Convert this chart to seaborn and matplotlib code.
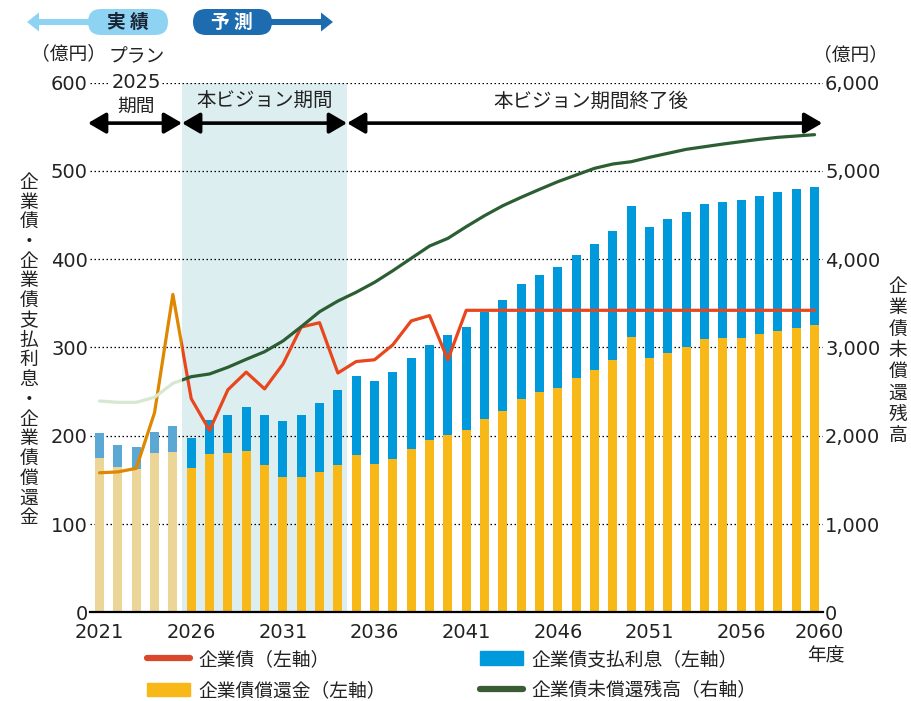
import matplotlib
matplotlib.use('Agg')
import numpy as np
import pandas as pd
import matplotlib.pyplot as plt
import seaborn as sns
from matplotlib.patches import Rectangle, FancyBboxPatch, FancyArrow, Patch
from matplotlib.lines import Line2D
from matplotlib.transforms import IdentityTransform, ScaledTranslation

# ---------------- data ----------------
years = list(range(2021, 2061))
phase = ['実績'] * 5 + ['予測'] * 35
# 企業債償還金 (億円, left axis)
repayment = [175, 164, 162, 180, 181, 163, 179, 180, 183, 167,
             153, 153, 159, 167, 178, 168, 174, 185, 195, 201,
             206, 219, 228, 242, 249, 254, 265, 274, 286, 312,
             288, 294, 301, 309, 311, 311, 315, 319, 322, 325]
# 企業債支払利息 (億円, left axis)
interest = [28, 26, 25, 24, 30, 34, 39, 44, 50, 57,
            64, 70, 78, 85, 90, 94, 98, 103, 108, 113,
            117, 121, 126, 130, 133, 137, 140, 143, 146, 148,
            148, 151, 152, 153, 154, 156, 156, 157, 157, 157]
# 企業債 (億円, left axis)
bond_issue = [158, 159, 163, 226, 360, 242, 206, 252, 272, 253,
              281, 323, 328, 271, 284, 286, 303, 330, 336, 286,
              342, 342, 342, 342, 342, 342, 342, 342, 342, 342,
              342, 342, 342, 342, 342, 342, 342, 342, 342, 342]
# 企業債未償還残高 (億円, right axis)
outstanding = [2393, 2378, 2378, 2435, 2593, 2668, 2699, 2775, 2865, 2951,
               3072, 3234, 3404, 3525, 3625, 3737, 3869, 4009, 4148, 4235,
               4367, 4492, 4605, 4700, 4790, 4877, 4953, 5028, 5077, 5103,
               5153, 5198, 5243, 5273, 5303, 5330, 5357, 5379, 5394, 5409]

x_ticks = [2021, 2026, 2031, 2036, 2041, 2046, 2051, 2056, 2060]
left_ticks = [0, 100, 200, 300, 400, 500, 600]
right_ticks = [0, 1000, 2000, 3000, 4000, 5000, 6000]
right_tick_labels = ['0', '1,000', '2,000', '3,000', '4,000', '5,000', '6,000']
legend_labels = ['企業債（左軸）', '企業債償還金（左軸）',
                 '企業債支払利息（左軸）', '企業債未償還残高（右軸）']

# ---------------- colours ----------------
C_YELLOW_A = '#ECD697'
C_BLUE_A = '#5BA8D5'
C_YELLOW = '#F8B818'
C_BLUE = '#009ADC'
C_ORANGE = '#DF8700'
C_RED = '#E8461C'
C_GREEN_A = '#D6E8D0'
C_GREEN = '#2B5E33'
C_SHADE = '#DDEEF1'

sns.set_theme(style='white')
plt.rcParams['font.family'] = ['Noto Sans CJK JP', 'DejaVu Sans']

W, H = 912, 701
fig = plt.figure(figsize=(W / 100, H / 100), dpi=100)
ax = fig.add_axes([90 / W, 1 - 612.3 / H, (823 - 90) / W, (612.3 - 82.5) / H])

df = pd.DataFrame({'year': years, 'phase': phase,
                   'repay': repayment,
                   'total': [r + i for r, i in zip(repayment, interest)]})

ax.axvspan(2025.5, 2034.5, color=C_SHADE, zorder=0.1, lw=0)

sns.barplot(data=df, x='year', y='total', hue='phase',
            palette={'実績': C_BLUE_A, '予測': C_BLUE}, saturation=1,
            native_scale=True, width=0.48, dodge=False, errorbar=None,
            linewidth=0, legend=False, ax=ax, zorder=2)
sns.barplot(data=df, x='year', y='repay', hue='phase',
            palette={'実績': C_YELLOW_A, '予測': C_YELLOW}, saturation=1,
            native_scale=True, width=0.48, dodge=False, errorbar=None,
            linewidth=0, legend=False, ax=ax, zorder=2.1)

bond_df = pd.DataFrame({'year': years, 'bond': bond_issue})
sns.lineplot(data=bond_df, x='year', y='bond', color=C_ORANGE, lw=2.3, ax=ax, zorder=4)
ax.lines[-1].set_clip_path(Rectangle((2019, -100), 6.5, 1000, transform=ax.transData))
sns.lineplot(data=bond_df, x='year', y='bond', color=C_RED, lw=2.3, ax=ax, zorder=4)
ax.lines[-1].set_clip_path(Rectangle((2025.5, -100), 40, 1000, transform=ax.transData))

ax.set_xlim(2020.48, 2060.46)
ax.set_ylim(0, 600)
ax.set_yticks(left_ticks)
ax.set_yticklabels([str(v) for v in left_ticks])
ax.set_xticks(x_ticks)
ax.set_xticklabels([str(v) for v in x_ticks])
ax.set_xlabel('')
ax.set_ylabel('')
ax.set_axisbelow(True)
ax.grid(axis='y', color='black', ls=(0, (1.2, 2.0)), lw=0.9, zorder=0.5)
ax.grid(axis='x', visible=False)
for s in ['top', 'left', 'right']:
    ax.spines[s].set_visible(False)
ax.spines['bottom'].set_color('black')
ax.spines['bottom'].set_linewidth(1.6)
ax.spines['bottom'].set_zorder(5)
ax.tick_params(axis='both', length=0, labelsize=14, colors='#222222')
ax.tick_params(axis='y', pad=1.5)
ax.tick_params(axis='x', pad=7.5)
for lab in ax.get_xticklabels() + ax.get_yticklabels():
    lab.set_fontfamily('DejaVu Sans')
xl = ax.get_xticklabels()[-1]
xl.set_transform(xl.get_transform() + ScaledTranslation(5 / 100, 0, fig.dpi_scale_trans))

ax2 = ax.twinx()
out_df = pd.DataFrame({'year': years, 'out': outstanding})
sns.lineplot(data=out_df, x='year', y='out', color=C_GREEN_A, lw=2.3, ax=ax2, zorder=3)
ax2.lines[-1].set_clip_path(Rectangle((2019, -1000), 6.5, 10000, transform=ax2.transData))
sns.lineplot(data=out_df, x='year', y='out', color=C_GREEN, lw=2.3, ax=ax2, zorder=3)
ax2.lines[-1].set_clip_path(Rectangle((2025.5, -1000), 40, 10000, transform=ax2.transData))
ax2.set_ylim(0, 6000)
ax2.set_xlim(2020.48, 2060.46)
ax2.set_yticks(right_ticks)
ax2.set_yticklabels(right_tick_labels)
ax2.set_ylabel('')
ax2.grid(False)
for s in ax2.spines.values():
    s.set_visible(False)
ax2.tick_params(axis='y', length=0, labelsize=14, pad=1.5, colors='#222222')
for lab in ax2.get_yticklabels():
    lab.set_fontfamily('DejaVu Sans')

# ------------- period annotations -------------
arrow_y = 554
arr = dict(arrowstyle='<|-|>,head_length=0.6,head_width=0.35', color='black',
           lw=2.6, shrinkA=0, shrinkB=0, mutation_scale=18)
for x0, x1 in [(2020.37, 2025.5), (2025.5, 2034.5), (2034.5, 2060.42)]:
    ax2.annotate('', xy=(x1, arrow_y * 10), xytext=(x0, arrow_y * 10),
                 arrowprops=arr, annotation_clip=False, zorder=6)
ax.text(2030.0, 579, '本ビジョン期間', ha='center', va='center', fontsize=14,
        color='#222222', zorder=6)
ax.text(2047.8, 579, '本ビジョン期間終了後', ha='center', va='center', fontsize=14,
        color='#222222', zorder=6)
ax.text(2023.0, 629, 'プラン', ha='center', va='center', fontsize=13.5,
        color='#222222', clip_on=False)
ax.text(2023.0, 600.5, '2025', ha='center', va='center', fontsize=14,
        color='#222222', clip_on=False, fontfamily='DejaVu Sans',
        bbox=dict(fc='white', ec='none', pad=1.0), zorder=6)
ax.text(2023.0, 573.5, '期間', ha='center', va='center', fontsize=13.5,
        color='#222222', clip_on=False, zorder=6)

def fx(x):
    return x / W

def fy(y):
    return 1 - y / H

fig.text(fx(69), fy(54), '（億円）', ha='center', va='center', fontsize=13.5, color='#222222')
fig.text(fx(851), fy(55), '（億円）', ha='center', va='center', fontsize=13.5, color='#222222')
fig.text(fx(826), fy(656), '年度', ha='center', va='center', fontsize=13.5, color='#222222')

fig.text(fx(29), fy(350), '\n'.join('企業債・企業債支払利息・企業債償還金'),
         ha='center', va='center', fontsize=13.5, linespacing=0.92, color='#222222')
fig.text(fx(898), fy(361), '\n'.join('企業債未償還残高'),
         ha='center', va='center', fontsize=13.5, linespacing=1.02, color='#222222')

# ------------- 実績 / 予測 pills -------------
ident = IdentityTransform()
C_PILL_A = '#8FD3F3'
C_PILL_F = '#1E6CB0'
fig.add_artist(FancyArrow(95, H - 22, -68, 0, width=6, head_width=19, head_length=12,
                          length_includes_head=True, color=C_PILL_A, lw=0,
                          transform=ident))
fig.add_artist(FancyBboxPatch((88, H - 35), 80, 26, boxstyle='round,pad=0,rounding_size=13',
                              fc=C_PILL_A, ec='none', transform=ident))
fig.text(fx(128), fy(22), '実 績', ha='center', va='center', fontsize=13.5,
         fontweight='bold', color='#1A2333')
fig.add_artist(FancyArrow(265, H - 22, 68, 0, width=6, head_width=19, head_length=12,
                          length_includes_head=True, color=C_PILL_F, lw=0,
                          transform=ident))
fig.add_artist(FancyBboxPatch((193, H - 35), 79, 26, boxstyle='round,pad=0,rounding_size=13',
                              fc=C_PILL_F, ec='none', transform=ident))
fig.text(fx(232), fy(22), '予 測', ha='center', va='center', fontsize=13.5,
         fontweight='bold', color='white')

# ------------- legend -------------
handles = [Line2D([], [], color='#D9482A', lw=4.5, solid_capstyle='round'),
           Patch(color=C_YELLOW),
           Patch(color=C_BLUE),
           Line2D([], [], color='#3A5B33', lw=4.5, solid_capstyle='round')]
fig.legend(handles, legend_labels, ncol=2, loc='center',
           bbox_to_anchor=(452 / W, 1 - 675 / H), frameon=False, fontsize=13.5,
           handlelength=2.3, handleheight=0.75, handletextpad=0.45,
           columnspacing=5.0, labelspacing=0.55, labelcolor='#222222')

fig.savefig('out.png', dpi=100)
